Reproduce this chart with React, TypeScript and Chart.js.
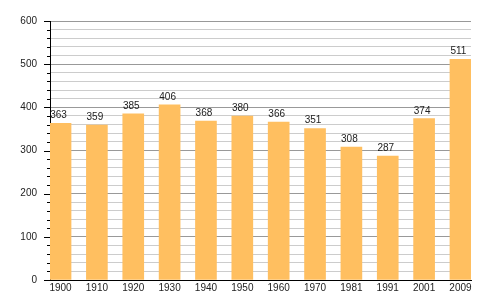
import React, { useEffect, useRef } from "react";
import { Chart, registerables } from "chart.js";

Chart.register(...registerables);

const categories = ["1900", "1910", "1920", "1930", "1940", "1950", "1960", "1970", "1981", "1991", "2001", "2009"];
const values = [363, 359, 385, 406, 368, 380, 366, 351, 308, 287, 374, 511];
const yTickLabels = [0, 100, 200, 300, 400, 500, 600];

const FONT = "'Liberation Sans', Arial, sans-serif";

const valueLabels = {
  id: "valueLabels",
  afterDatasetsDraw(chart: any) {
    const ctx = chart.ctx;
    const meta = chart.getDatasetMeta(0);
    ctx.save();
    ctx.font = `10px ${FONT}`;
    ctx.fillStyle = "#222";
    ctx.textAlign = "center";
    ctx.textBaseline = "alphabetic";
    meta.data.forEach((el: any, i: number) => {
      ctx.fillText(String(values[i]), el.x - 2, el.y - 5);
    });
    ctx.restore();
  },
};

const yTicks = {
  id: "yTicks",
  afterDraw(chart: any) {
    const ctx = chart.ctx;
    const y = chart.scales.y;
    const left = chart.chartArea.left;
    ctx.save();
    ctx.strokeStyle = "#000";
    ctx.lineWidth = 1;
    y.ticks.forEach((t: any) => {
      const py = Math.round(y.getPixelForValue(t.value)) + 0.5;
      const len = t.value % 100 === 0 ? 6 : 3;
      ctx.beginPath();
      ctx.moveTo(left - len, py);
      ctx.lineTo(left, py);
      ctx.stroke();
    });
    ctx.restore();
  },
};

export default function App() {
  const ref = useRef<HTMLCanvasElement>(null);
  useEffect(() => {
    document.body.style.margin = "0";
    const chart = new Chart(ref.current!, {
      type: "bar",
      data: {
        datasets: [
          {
            data: values.map((v, i) => ({ x: i, y: v })),
            backgroundColor: "#FFBF60",
            borderWidth: 0,
            barThickness: 21,
          },
        ],
      },
      options: {
        responsive: false,
        animation: false,
        layout: { padding: { top: 21, right: 29, bottom: 0, left: 0 } },
        plugins: { legend: { display: false }, tooltip: { enabled: false } },
        scales: {
          x: {
            type: "linear",
            offset: false,
            min: -0.29,
            max: 11.29,
            afterBuildTicks: (scale: any) => {
              scale.ticks = categories.map((_, i) => ({ value: i }));
            },
            afterFit: (scale: any) => {
              scale.height = 20;
            },
            grid: { display: false, drawTicks: false },
            border: { color: "#000", width: 1 },
            ticks: {
              padding: 2,
              color: "#222",
              font: { family: FONT, size: 10 },
              maxRotation: 0,
              autoSkip: false,
              callback: (v: any) => categories[v] ?? "",
            },
          },
          y: {
            min: 0,
            max: 600,
            afterFit: (scale: any) => {
              scale.width = 50;
            },
            grid: {
              drawTicks: false,
              color: (c: any) => (c.tick && c.tick.value % 100 === 0 ? "#999" : "#ccc"),
            },
            border: { color: "#000", width: 1 },
            ticks: {
              stepSize: 20,
              padding: 13,
              color: "#222",
              font: { family: FONT, size: 10 },
              autoSkip: false,
              callback: (v: any) => (yTickLabels.includes(v) ? String(v) : ""),
            },
          },
        },
      },
      plugins: [valueLabels, yTicks],
    });
    return () => chart.destroy();
  }, []);
  return <canvas ref={ref} width={500} height={300} style={{ display: "block" }} />;
}
